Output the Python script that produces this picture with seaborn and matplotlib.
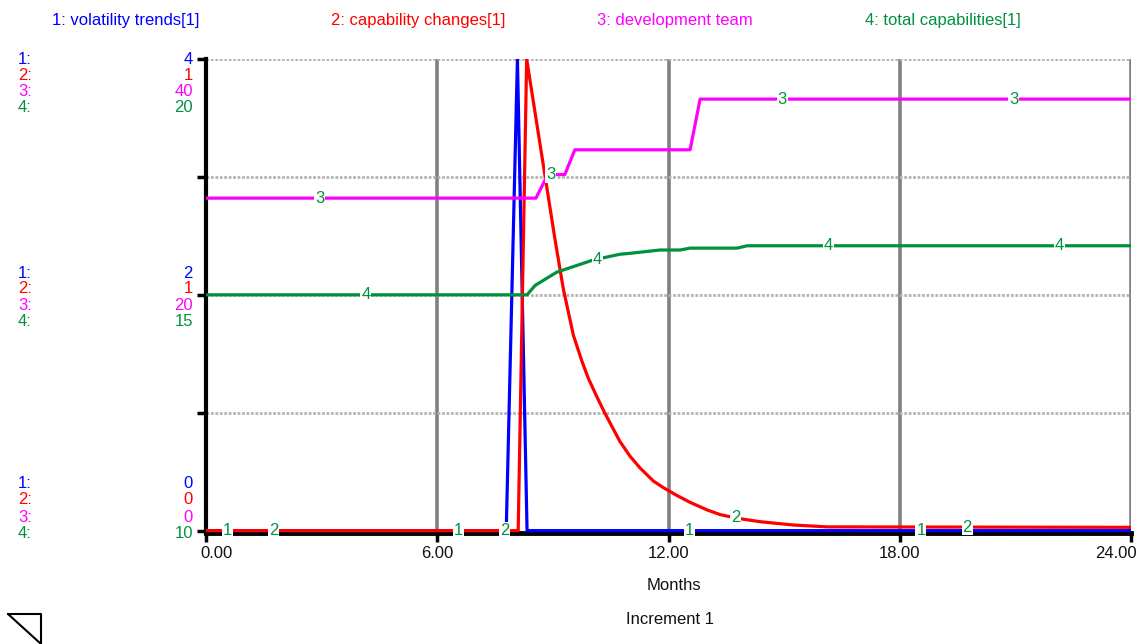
import numpy as np
import pandas as pd
import matplotlib
matplotlib.use("Agg")
import matplotlib.pyplot as plt
from matplotlib.lines import Line2D
from matplotlib.transforms import ScaledTranslation
import seaborn as sns

# --- data (time in months) ---
blue_t = [0, 7.79, 8.08, 8.33, 24]
blue_v = [0, 0, 4, 0, 0]  # volatility trends, scale 0..4

red_t = [0, 8.1, 8.32, 8.55, 8.8, 9.05, 9.27, 9.53, 9.75, 9.92, 10.14, 10.35, 10.57,
         10.74, 11.0, 11.26, 11.61, 11.87, 12.21, 12.56, 13.0, 13.34, 13.8, 14.37,
         15.23, 16.11, 24]
red_v = [0, 0, 1.0, 0.88, 0.75, 0.62, 0.513, 0.415, 0.36, 0.323, 0.284, 0.249, 0.215,
         0.189, 0.158, 0.133, 0.105, 0.091, 0.075, 0.06, 0.044, 0.034, 0.026, 0.019,
         0.012, 0.008, 0.007]  # capability changes, 0..1

mag_t = [0, 8.56, 8.87, 9.31, 9.57, 12.56, 12.82, 24]
mag_v = [28.2, 28.2, 30.2, 30.2, 32.3, 32.3, 36.6, 36.6]  # development team, 0..40

grn_t = [0, 8.33, 8.54, 9.1, 10.05, 10.74, 11.0, 11.78, 12.3, 12.56, 13.78, 14.04, 24]
grn_v = [15.0, 15.0, 15.2, 15.48, 15.74, 15.86, 15.88, 15.95, 15.95, 15.99, 15.99,
         16.04, 16.04]  # total capabilities, 10..20

names = ["1: volatility trends[1]", "2: capability changes[1]",
         "3: development team", "4: total capabilities[1]"]
colors = ["#0000ff", "#ff0000", "#ff00ff", "#00913f"]
scale_lo = [0, 0, 0, 10]
scale_hi = [4, 1, 40, 20]
scale_mid = [2, 1, 20, 15]
xticks = [0, 6, 12, 18, 24]
xtick_labels = ["0.00", "6.00", "12.00", "18.00", "24.00"]

sns.set_theme(style="white")
plt.rcParams['font.family'] = ['Liberation Sans', 'DejaVu Sans']
FS = 12

W, H = 1143, 644
fig = plt.figure(figsize=(W / 100, H / 100), dpi=100)
ax = fig.add_axes([206 / W, 1 - 533 / H, 925 / W, 474 / H])

series = [(blue_t, blue_v), (red_t, red_v), (mag_t, mag_v), (grn_t, grn_v)]
for i, (t, v) in enumerate(series):
    df = pd.DataFrame({"t": t, "v": (np.array(v) - scale_lo[i]) / (scale_hi[i] - scale_lo[i])})
    sns.lineplot(data=df, x="t", y="v", ax=ax, color=colors[i], lw=2.3,
                 estimator=None, sort=False, zorder=3 + i * 0.1)

# numbered markers on each line
for i, (t, v) in enumerate(series):
    for j in range(4):
        tl = 0.55 + 1.2 * i + 6 * j
        yl = (np.interp(tl, t, v) - scale_lo[i]) / (scale_hi[i] - scale_lo[i])
        ax.text(tl, yl, str(i + 1), color=colors[3], fontsize=FS, ha="center", va="center",
                zorder=6, bbox=dict(boxstyle="square,pad=0.05", fc="white", ec="none"))

ax.set_xlim(0, 24)
ax.set_ylim(-0.005, 1.0)
for xv in xticks[1:]:
    ax.axvline(xv, color="#808080", lw=2.6, zorder=1)
for yv in [0.25, 0.5, 0.75, 1.0]:
    ax.axhline(yv, color="#b4b4b4", lw=2.0, ls=(0, (1, 0.6)), zorder=1)

for s in ["top", "right"]:
    ax.spines[s].set_visible(False)
ax.spines["left"].set_linewidth(3)
ax.spines["bottom"].set_linewidth(3.5)
ax.spines["left"].set_color("black")
ax.spines["bottom"].set_color("black")
ax.spines["left"].set_zorder(2)
ax.spines["bottom"].set_zorder(2)

ax.set_yticks([0, 0.25, 0.5, 0.75, 1.0])
ax.set_yticklabels([])
ax.set_xticks(xticks)
ax.set_xticklabels(xtick_labels, fontsize=FS, color="#111111")
ax.tick_params(axis="both", direction="out", length=6.5, width=2.5, color="black",
               left=True, bottom=True)
ax.tick_params(axis="x", pad=3)
labs = ax.get_xticklabels()
labs[0].set_ha("left")
labs[0].set_transform(labs[0].get_transform() + ScaledTranslation(-0.06, 0, fig.dpi_scale_trans))
labs[-1].set_ha("right")
labs[-1].set_transform(labs[-1].get_transform() + ScaledTranslation(0.06, 0, fig.dpi_scale_trans))
ax.set_xlabel("")
ax.set_ylabel("")

# title row
for i, x0 in enumerate([52, 331, 597, 865]):
    fig.text(x0 / W, 1 - 20 / H, names[i], color=colors[i], fontsize=FS, ha="left", va="center")

# left scale labels
groups = [([60, 76, 92, 108], scale_hi), ([273, 289, 306, 322], scale_mid),
          ([484, 500, 517, 534], scale_lo)]
for rows, vals in groups:
    for i in range(4):
        fig.text(18 / W, 1 - rows[i] / H, f"{i + 1}:", color=colors[i], fontsize=FS,
                 ha="left", va="center")
        fig.text(193 / W, 1 - rows[i] / H, str(vals[i]), color=colors[i], fontsize=FS,
                 ha="right", va="center")

fig.text(674 / W, 1 - 586 / H, "Months", fontsize=FS, ha="center", va="center", color="#111111")
fig.text(670 / W, 1 - 619 / H, "Increment 1", fontsize=FS, ha="center", va="center", color="#111111")

# little page-corner triangle bottom left
tri_x = np.array([8, 41, 41, 8]) / W
tri_y = 1 - np.array([614, 614, 644, 614]) / H
fig.add_artist(Line2D(tri_x, tri_y, color="black", lw=1.5, transform=fig.transFigure))

fig.savefig("out.png", dpi=100)
